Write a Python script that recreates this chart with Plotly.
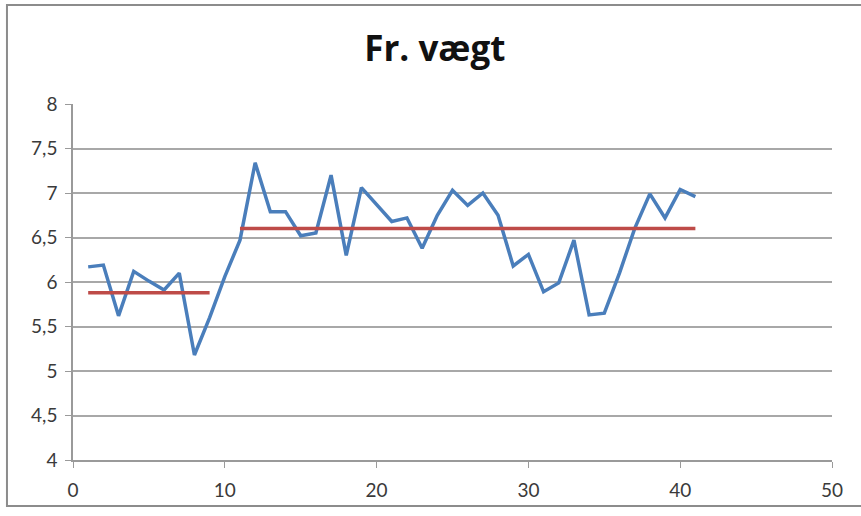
import plotly.graph_objects as go

# data
x_vals = list(range(1, 42))
vaegt = [6.17, 6.19, 5.62, 6.12, 6.01, 5.91, 6.10, 5.18, 5.60, 6.06,
         6.47, 7.34, 6.79, 6.79, 6.52, 6.55, 7.20, 6.30, 7.06, 6.87,
         6.68, 6.72, 6.38, 6.75, 7.03, 6.86, 7.00, 6.75, 6.18, 6.31,
         5.89, 5.99, 6.47, 5.63, 5.65, 6.10, 6.60, 6.99, 6.72, 7.04, 6.96]
mean1_x = [1, 9]
mean1_y = [5.88, 5.88]
mean2_x = [11, 41]
mean2_y = [6.60, 6.60]

fig = go.Figure()
fig.add_trace(go.Scatter(x=x_vals, y=vaegt, mode='lines',
                         line=dict(color='#4a7ebb', width=3.5), showlegend=False))
fig.add_trace(go.Scatter(x=mean1_x, y=mean1_y, mode='lines',
                         line=dict(color='#be4b48', width=3.5), showlegend=False))
fig.add_trace(go.Scatter(x=mean2_x, y=mean2_y, mode='lines',
                         line=dict(color='#be4b48', width=3.5), showlegend=False))

# chart border (Excel chart frame)
fig.add_shape(type='rect', xref='paper', yref='paper',
              x0=-0.087, x1=1.06, y0=-0.129, y1=1.278,
              line=dict(color='#8c8c8c', width=2), layer='below')

fig.update_layout(
    width=861, height=516,
    margin=dict(l=73, r=29, t=104, b=56),
    paper_bgcolor='white', plot_bgcolor='white',
    font=dict(family='Lato', size=19, color='#3a3a3a'),
    title=dict(text='<b>Fr. vægt</b>', x=0.505, xanchor='center',
               y=0.905, yanchor='middle',
               font=dict(family='Open Sans', size=35, color='#111111')),
    xaxis=dict(range=[0, 50], dtick=10, showgrid=False, zeroline=False,
               showline=True, linecolor='#9a9a9a', linewidth=1.5,
               ticks='outside', ticklen=6, tickcolor='#9a9a9a',
               ticklabelstandoff=6),
    yaxis=dict(range=[4, 8], dtick=0.5, showgrid=True, gridcolor='#a8a8a8',
               gridwidth=1.5, zeroline=False,
               showline=True, linecolor='#9a9a9a', linewidth=1.5,
               ticks='outside', ticklen=6, tickcolor='#9a9a9a',
               ticklabelstandoff=4),
    separators=', ',
)

# drop the default page margin so the figure sits at the window corner
fig.write_html("out.html", config={'displayModeBar': False},
               post_script="document.body.style.margin='0';")
